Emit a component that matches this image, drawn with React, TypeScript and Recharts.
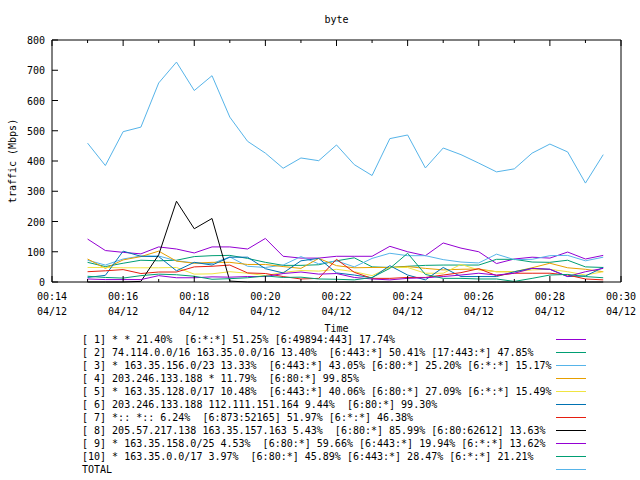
import React from 'react';
import { LineChart, Line, XAxis, YAxis, Label } from 'recharts';

// sample times (every 30 s)
const TIMES = [
  '00:15:00', '00:15:30', '00:16:00', '00:16:30', '00:17:00', '00:17:30',
  '00:18:00', '00:18:30', '00:19:00', '00:19:30', '00:20:00', '00:20:30',
  '00:21:00', '00:21:30', '00:22:00', '00:22:30', '00:23:00', '00:23:30',
  '00:24:00', '00:24:30', '00:25:00', '00:25:30', '00:26:00', '00:26:30',
  '00:27:00', '00:27:30', '00:28:00', '00:28:30', '00:29:00', '00:29:30',
];

const X_TICKS = [
  '00:14', '00:15', '00:16', '00:17', '00:18', '00:19', '00:20', '00:21', '00:22',
  '00:23', '00:24', '00:25', '00:26', '00:27', '00:28', '00:29', '00:30',
];
const X_DATE = '04/12';
const Y_TICKS = [0, 100, 200, 300, 400, 500, 600, 700, 800];

const S1 = [142, 104, 98, 93, 116, 109, 96, 116, 116, 109, 144, 85, 79, 79, 85, 85, 85, 118, 100, 87, 129, 112, 100, 61, 76, 82, 79, 99, 76, 88];
const S2 = [65, 51, 62, 72, 70, 72, 84, 87, 88, 78, 65, 55, 55, 57, 70, 80, 50, 48, 52, 55, 56, 56, 56, 75, 75, 66, 65, 72, 50, 48];
const S3 = [72, 56, 76, 86, 86, 70, 63, 61, 83, 52, 48, 56, 84, 60, 70, 50, 78, 95, 87, 87, 74, 66, 63, 92, 74, 75, 87, 88, 70, 82];
const S4 = [76, 45, 73, 84, 102, 69, 62, 65, 65, 58, 58, 51, 45, 78, 54, 47, 48, 48, 51, 45, 40, 42, 43, 34, 34, 47, 62, 47, 42, 34];
const S5 = [48, 48, 47, 47, 47, 48, 26, 27, 34, 29, 21, 32, 38, 36, 42, 34, 21, 48, 48, 29, 29, 58, 40, 34, 34, 40, 42, 34, 23, 34];
const S6 = [15, 22, 102, 85, 84, 37, 65, 56, 82, 82, 44, 30, 70, 78, 30, 23, 14, 54, 23, 7, 48, 18, 18, 18, 34, 45, 42, 18, 20, 48];
const S7 = [34, 37, 41, 28, 33, 33, 50, 52, 56, 30, 28, 18, 10, 12, 75, 32, 12, 12, 15, 15, 23, 31, 44, 21, 29, 29, 29, 23, 10, 7];
const S8 = [0, 0, 0, 2, 90, 267, 176, 210, 3, 0, 0, 0, 0, 0, 0, 0, 0, 0, 0, 0, 0, 0, 0, 0, 0, 0, 0, 0, 0, 0];
const S9 = [10, 8, 8, 8, 21, 14, 14, 17, 16, 18, 18, 28, 33, 26, 28, 15, 10, 7, 12, 14, 18, 23, 29, 23, 29, 45, 42, 18, 34, 45];
const S10 = [19, 15, 13, 21, 26, 24, 19, 9, 11, 14, 20, 15, 16, 10, 9, 7, 15, 45, 95, 25, 12, 12, 10, 10, 2, 12, 23, 25, 18, 14];
const TOTAL = [459, 385, 497, 512, 658, 727, 633, 682, 545, 465, 426, 376, 410, 401, 453, 388, 352, 474, 486, 377, 443, 421, 393, 364, 374, 426, 456, 430, 327, 421];

const SERIES = [
  { key: 's1', values: S1, color: '#9400d3', label: '[ 1] * * 21.40%  [6:*:*] 51.25% [6:49894:443] 17.74%' },
  { key: 's2', values: S2, color: '#009e73', label: '[ 2] 74.114.0.0/16 163.35.0.0/16 13.40%  [6:443:*] 50.41% [17:443:*] 47.85%' },
  { key: 's3', values: S3, color: '#56b4e9', label: '[ 3] * 163.35.156.0/23 13.33%  [6:443:*] 43.05% [6:80:*] 25.20% [6:*:*] 15.17%' },
  { key: 's4', values: S4, color: '#e69f00', label: '[ 4] 203.246.133.188 * 11.79%  [6:80:*] 99.85%' },
  { key: 's5', values: S5, color: '#f0e442', label: '[ 5] * 163.35.128.0/17 10.48%  [6:443:*] 40.06% [6:80:*] 27.09% [6:*:*] 15.49%' },
  { key: 's6', values: S6, color: '#0072b2', label: '[ 6] 203.246.133.188 112.111.151.164 9.44%  [6:80:*] 99.30%' },
  { key: 's7', values: S7, color: '#e51e10', label: '[ 7] *:: *:: 6.24%  [6:873:52165] 51.97% [6:*:*] 46.38%' },
  { key: 's8', values: S8, color: '#000000', label: '[ 8] 205.57.217.138 163.35.157.163 5.43%  [6:80:*] 85.99% [6:80:62612] 13.63%' },
  { key: 's9', values: S9, color: '#9400d3', label: '[ 9] * 163.35.158.0/25 4.53%  [6:80:*] 59.66% [6:443:*] 19.94% [6:*:*] 13.62%' },
  { key: 's10', values: S10, color: '#009e73', label: '[10] * 163.35.0.0/17 3.97%  [6:80:*] 45.89% [6:443:*] 28.47% [6:*:*] 21.21%' },
  { key: 'total', values: TOTAL, color: '#56b4e9', label: 'TOTAL' },
];

const FONT = '"DejaVu Sans Mono", monospace';

const toMinutes = (t: string) => {
  const [h, m, s] = t.split(':').map(Number);
  return h * 60 + m + (s || 0) / 60;
};

const data = TIMES.map((t, i) => {
  const row: any = { t: toMinutes(t) };
  SERIES.forEach(s => { row[s.key] = s.values[i]; });
  return row;
});

const xTickValues = X_TICKS.map(toMinutes);
const tickLabel = (m: number) => X_TICKS[xTickValues.indexOf(m)];

const BottomTick = ({ x, y, payload }: any) => {
  const major = payload.value % 2 === 0;
  return (
    <g>
      <line x1={x} x2={x} y1={y} y2={y - (major ? 6 : 3)} stroke="#000" />
      {major && (
        <text x={x} y={y + 18} textAnchor="middle" fontFamily={FONT} fontSize={10} fill="#000">
          <tspan x={x}>{tickLabel(payload.value)}</tspan>
          <tspan x={x} dy={15}>{X_DATE}</tspan>
        </text>
      )}
    </g>
  );
};

const TopTick = ({ x, y, payload }: any) => {
  const major = payload.value % 2 === 0;
  return <line x1={x} x2={x} y1={y} y2={y + (major ? 6 : 3)} stroke="#000" />;
};

const LeftTick = ({ x, y, payload }: any) => (
  <g>
    <line x1={x} x2={x + 6} y1={y} y2={y} stroke="#000" />
    <text x={x - 7} y={y + 4} textAnchor="end" fontFamily={FONT} fontSize={10} fill="#000">
      {payload.value}
    </text>
  </g>
);

const RightTick = ({ x, y }: any) => <line x1={x} x2={x - 6} y1={y} y2={y} stroke="#000" />;

export default function App() {
  return (
    <div style={{ position: 'absolute', left: 0, top: 0, width: 640, height: 480, background: '#fff' }}>
      <LineChart width={640} height={480} data={data} margin={{ top: 35, right: 0, bottom: 138, left: 0 }}>
        <XAxis
          dataKey="t"
          type="number"
          domain={[14, 30]}
          ticks={xTickValues}
          interval={0}
          height={60}
          tickSize={0}
          tickMargin={0}
          tickLine={false}
          axisLine={{ stroke: '#000' }}
          tick={<BottomTick />}
        >
          <Label
            content={({ viewBox }: any) => (
              <text x={viewBox.x + viewBox.width / 2} y={viewBox.y + 50} textAnchor="middle" fontFamily={FONT} fontSize={10} fill="#000">
                Time
              </text>
            )}
          />
        </XAxis>
        <XAxis
          xAxisId="top"
          orientation="top"
          dataKey="t"
          type="number"
          domain={[14, 30]}
          ticks={xTickValues}
          interval={0}
          height={5}
          tickSize={0}
          tickMargin={0}
          tickLine={false}
          axisLine={{ stroke: '#000' }}
          tick={<TopTick />}
        >
          <Label
            content={({ viewBox }: any) => (
              <text x={viewBox.x + viewBox.width / 2} y={viewBox.y - 12} textAnchor="middle" fontFamily={FONT} fontSize={10} fill="#000">
                byte
              </text>
            )}
          />
        </XAxis>
        <YAxis
          type="number"
          domain={[0, 800]}
          ticks={Y_TICKS}
          interval={0}
          width={52}
          tickSize={0}
          tickMargin={0}
          tickLine={false}
          axisLine={{ stroke: '#000' }}
          tick={<LeftTick />}
        >
          <Label
            content={({ viewBox }: any) => {
              const cy = viewBox.y + viewBox.height / 2;
              return (
                <text x={12} y={cy} transform={`rotate(-90, 12, ${cy})`} textAnchor="middle" dominantBaseline="central" fontFamily={FONT} fontSize={10} fill="#000">
                  traffic (Mbps)
                </text>
              );
            }}
          />
        </YAxis>
        <YAxis
          yAxisId="right"
          orientation="right"
          type="number"
          domain={[0, 800]}
          ticks={Y_TICKS}
          interval={0}
          width={19}
          tickSize={0}
          tickMargin={0}
          tickLine={false}
          axisLine={{ stroke: '#000' }}
          tick={<RightTick />}
        />
        {SERIES.map(s => (
          <Line
            key={s.key}
            dataKey={s.key}
            type="linear"
            stroke={s.color}
            strokeWidth={1}
            dot={false}
            activeDot={false}
            isAnimationActive={false}
          />
        ))}
      </LineChart>
      <div style={{ position: 'absolute', left: 82, top: 333, fontFamily: FONT, fontSize: 10, lineHeight: '13px', color: '#000' }}>
        {SERIES.map(s => (
          <div key={s.key} style={{ position: 'relative', height: 13, whiteSpace: 'pre' }}>
            {s.label}
            <span style={{ position: 'absolute', left: 474, top: 6, width: 30, height: 1, background: s.color }} />
          </div>
        ))}
      </div>
    </div>
  );
}
